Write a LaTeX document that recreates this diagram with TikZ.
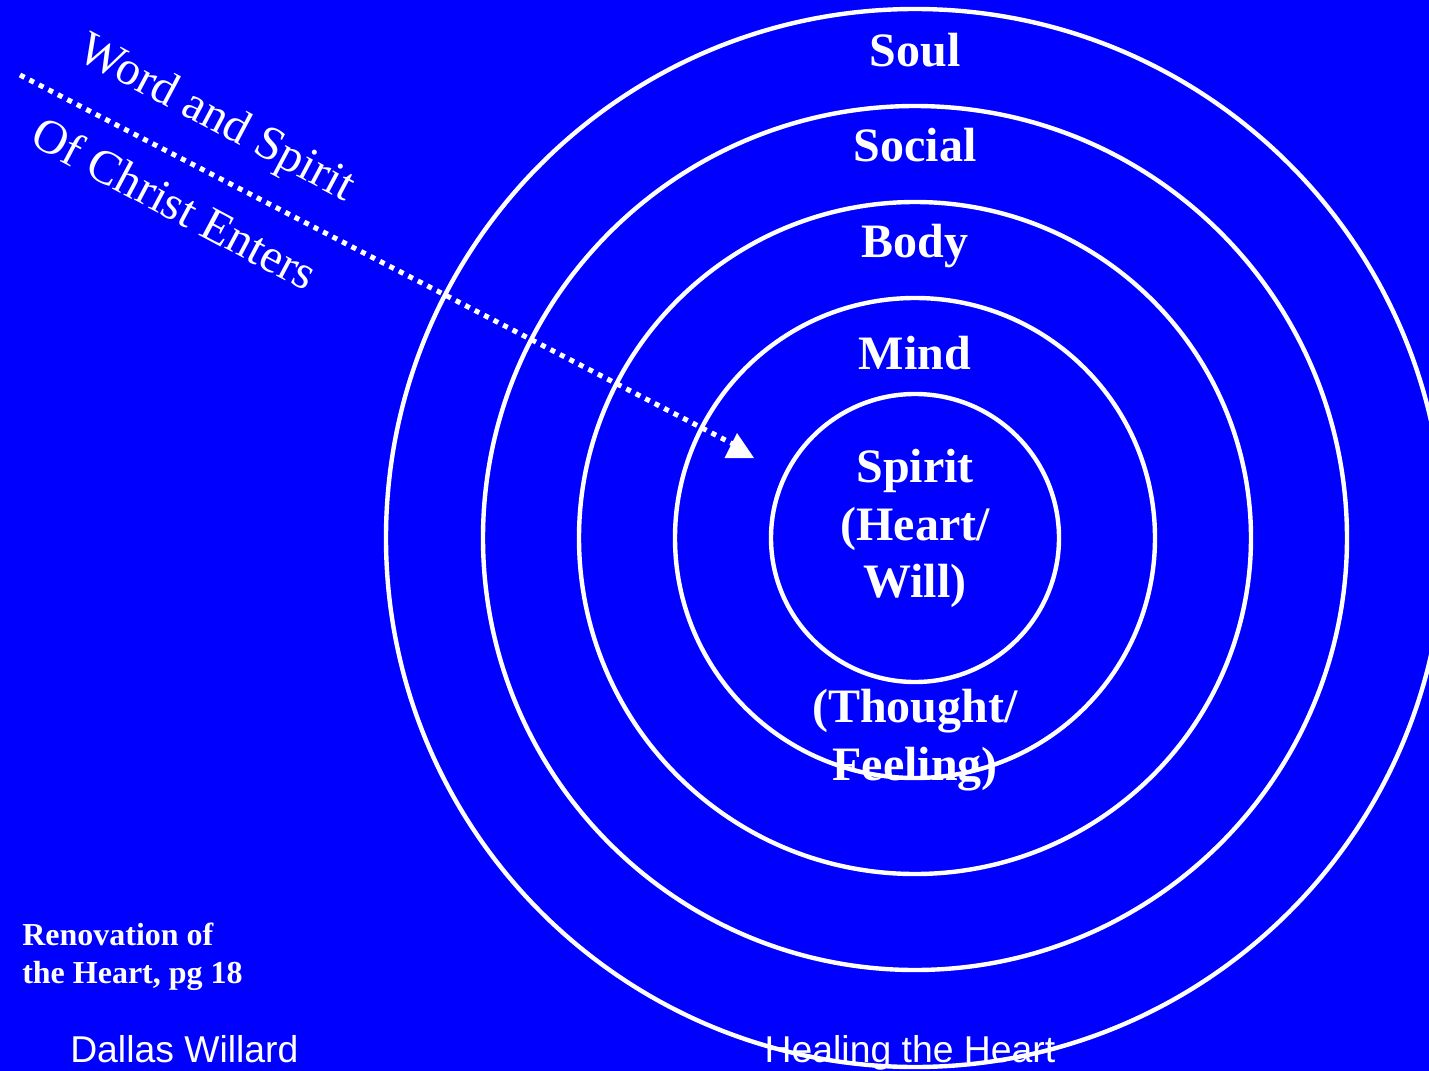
\documentclass[tikz,border=0pt]{standalone}
\usepackage{fontspec}
\setmainfont{Liberation Serif}
\newfontfamily\arialfont{Liberation Sans}
\definecolor{bgblue}{RGB}{0,0,255}
\begin{document}
\begin{tikzpicture}[x=0.75pt,y=-0.75pt,
  ring/.style={draw=white,line width=3.3pt},
  lbl/.style={text=white,inner sep=0pt,anchor=base,font=\fontsize{36}{43}\selectfont\bfseries},
  slant/.style={text=white,inner sep=0pt,anchor=center,rotate=-28,font=\fontsize{36}{43}\selectfont},
  small/.style={text=white,inner sep=0pt,anchor=base west,font=\fontsize{24}{29}\selectfont\bfseries},
  sans/.style={text=white,inner sep=0pt,anchor=base,font=\fontsize{28}{34}\selectfont\arialfont},
  entry/.style={draw=white,line width=3.8pt,dash pattern=on 3.8pt off 4.2pt}]
\useasboundingbox (0,0) rectangle (1429,1071);
\clip (0,0) rectangle (1429,1071);
\fill[bgblue] (0,0) rectangle (1429,1071);
% rings
\coordinate (ctr) at (915,538);
\draw[ring] (ctr) circle[radius=144];
\draw[ring] (ctr) circle[radius=240];
\draw[ring] (ctr) circle[radius=336];
\draw[ring] (ctr) circle[radius=432];
\draw[ring] (ctr) circle[radius=529];
% ring labels
\node[lbl] (soul) at (915,66) {Soul};
\node[lbl] (social) at (915,161) {Social};
\node[lbl] (body) at (915,257) {Body};
\node[lbl] (mind) at (915,369) {Mind};
\node[lbl] (spirit1) at (915,482) {Spirit};
\node[lbl] (spirit2) at (915,540) {(Heart/};
\node[lbl] (spirit3) at (915,597) {Will)};
\node[lbl] (thought1) at (915,722) {(Thought/};
\node[lbl] (thought2) at (915,780) {Feeling)};
% entering word
\node[slant] (word) at (216,120) {Word and Spirit};
\node[slant] (christ) at (175,203) {Of Christ Enters};
\coordinate (entrystart) at (20,75);
\coordinate (entryend) at (733,444);
\draw[entry] (entrystart) -- (entryend);
\fill[white] (737,433) -- (724.5,458) -- (754,458) -- cycle;
% footnotes
\node[small] (ref1) at (22,945) {Renovation of};
\node[small] (ref2) at (22,983) {the Heart, pg 18};
\node[sans,anchor=base west] (author) at (70,1062) {Dallas Willard};
\node[sans] (title) at (910,1062) {Healing the Heart};
\end{tikzpicture}
\end{document}
